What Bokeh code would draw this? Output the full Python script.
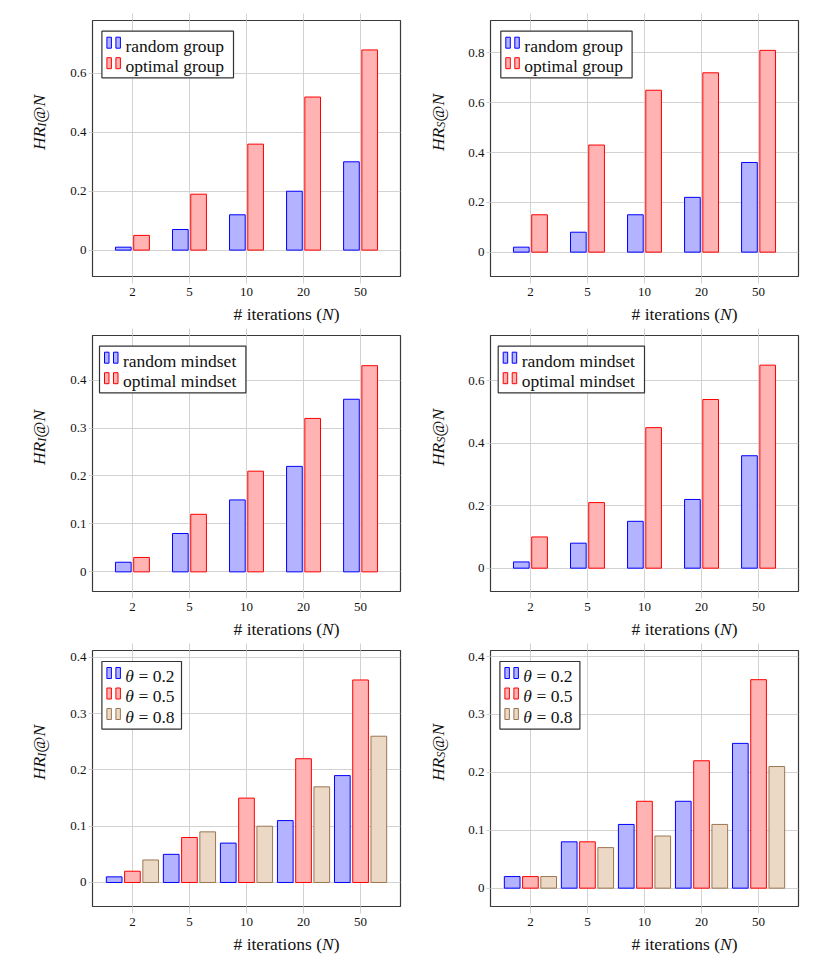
import math
from bokeh.plotting import figure
from bokeh.models import (FactorRange, Range1d, FixedTicker, CategoricalAxis,
                          BoxAnnotation, Label, ColumnDataSource, Plot)
from bokeh.transform import dodge
from bokeh.layouts import gridplot
from bokeh.embed import file_html
from bokeh.resources import INLINE

# ---------------- data ----------------
iterations = ["2", "5", "10", "20", "50"]

hri_random_group = [0.01, 0.07, 0.12, 0.20, 0.30]
hri_optimal_group = [0.05, 0.19, 0.36, 0.52, 0.68]
hrs_random_group = [0.02, 0.08, 0.15, 0.22, 0.36]
hrs_optimal_group = [0.15, 0.43, 0.65, 0.72, 0.81]

hri_random_mindset = [0.02, 0.08, 0.15, 0.22, 0.36]
hri_optimal_mindset = [0.03, 0.12, 0.21, 0.32, 0.43]
hrs_random_mindset = [0.02, 0.08, 0.15, 0.22, 0.36]
hrs_optimal_mindset = [0.10, 0.21, 0.45, 0.54, 0.65]

hri_theta_02 = [0.01, 0.05, 0.07, 0.11, 0.19]
hri_theta_05 = [0.02, 0.08, 0.15, 0.22, 0.36]
hri_theta_08 = [0.04, 0.09, 0.10, 0.17, 0.26]
hrs_theta_02 = [0.02, 0.08, 0.11, 0.15, 0.25]
hrs_theta_05 = [0.02, 0.08, 0.15, 0.22, 0.36]
hrs_theta_08 = [0.02, 0.07, 0.09, 0.11, 0.21]

group_labels = ["random group", "optimal group"]
mindset_labels = ["random mindset", "optimal mindset"]
theta_labels = ["0.2", "0.5", "0.8"]

yticks_a = [0, 0.2, 0.4, 0.6]
yticks_b = [0, 0.2, 0.4, 0.6, 0.8]
yticks_c = [0, 0.1, 0.2, 0.3, 0.4]

# ---------------- style ----------------
SERIF = "Liberation Serif"
TXT = "#111111"
GRID = "#d2d2d2"
FW, FH = 308, 256
F = 17.5
FS = 12.25
BLUE = ("#b3b3ff", "#0000ff")
RED = ("#ffb3b3", "#ff0000")
BROWN = ("#ebd9c6", "#9b7653")

B_LEFT = 40      # main figure left border (tick labels)
B_BOTTOM = 26    # main figure bottom border (tick labels)
XL_H = 23        # height of the x-label strip
SHIFT = 4.5      # correction for where Bokeh puts the alphabetic baseline


def fmt(t):
    return "0" if t == 0 else f"{t:g}"


def label_plot(width, height):
    lp = Plot(width=width, height=height, min_border=0, toolbar_location=None,
              output_backend="svg", x_range=Range1d(0, 1), y_range=Range1d(0, 1),
              outline_line_color=None, background_fill_color=None,
              border_fill_color=None)
    return lp


def ylabel_plot(width, height, baseline_x, sub):
    lp = label_plot(width, height)
    w_sub = (0.333 if sub == "I" else 0.5) * FS
    parts = [("HR", "italic", F, 1.333 * F, 0.0),
             (sub, "italic", FS, w_sub, 3.5),
             ("@", "normal", F, 0.921 * F, 0.0),
             ("N", "italic", F, 0.667 * F, 0.0)]
    total = sum(pt[3] for pt in parts)
    y = B_BOTTOM + FH / 2 - total / 2
    for text, style, size, w, drop in parts:
        lp.add_layout(Label(x=baseline_x + drop - SHIFT, y=y, x_units="screen", y_units="screen",
                            text=text, angle=math.pi / 2, text_font=SERIF,
                            text_font_style=style, text_font_size=f"{size}px",
                            text_align="left", text_baseline="alphabetic",
                            text_color=TXT))
        y += w
    return lp


def xlabel_plot(width):
    lp = label_plot(width, XL_H)
    parts = [("# iterations (", "normal", 5.055 * F),
             ("N", "italic", 0.667 * F),
             (")", "normal", 0.333 * F)]
    total = sum(pt[2] for pt in parts)
    x = B_LEFT + FW / 2 - total / 2
    for text, style, w in parts:
        lp.add_layout(Label(x=x, y=XL_H - 15.8 + SHIFT, x_units="screen", y_units="screen",
                            text=text, text_font=SERIF, text_font_style=style,
                            text_font_size=f"{F}px", text_align="left",
                            text_baseline="alphabetic", text_color=TXT))
        x += w
    return lp


def sbox(l, r, t, b, fill, line, lw=1.0):
    return BoxAnnotation(left=l, right=r, top=t, bottom=b,
                         left_units="screen", right_units="screen",
                         top_units="screen", bottom_units="screen",
                         fill_color=fill, fill_alpha=1.0,
                         line_color=line, line_alpha=1.0, line_width=lw)


def add_legend(p, box, entries):
    L, T, W, H = box
    top = FH - T
    p.add_layout(sbox(L, L + W, top, top - H, "white", "#333333", 1.2))
    for i, (pieces, (fill, line)) in enumerate(entries):
        rt = top - 6 - i * 20.5
        rb = rt - 11
        p.add_layout(sbox(L + 5, L + 9.5, rt, rb, fill, line))
        p.add_layout(sbox(L + 14, L + 18.5, rt, rb, fill, line))
        by = top - 18.8 - i * 20.5 + SHIFT
        for text, style, dx in pieces:
            p.add_layout(Label(x=L + dx, y=by, x_units="screen", y_units="screen",
                               text=text, text_font=SERIF, text_font_style=style,
                               text_font_size=f"{F}px", text_align="left",
                               text_baseline="alphabetic", text_color=TXT))


def make_panel(col, top_border, series, styles, offsets, width, ylim, yticks,
               legend_box, legend_pieces):
    data = dict(x=iterations)
    for i, s in enumerate(series):
        data[f"s{i}"] = s
    src = ColumnDataSource(data)
    p = figure(x_range=FactorRange(factors=iterations, range_padding=0.2,
                                   range_padding_units="absolute"),
               y_range=Range1d(*ylim), frame_width=FW, frame_height=FH,
               min_border_left=B_LEFT, min_border_right=2 if col == 0 else 10,
               min_border_top=top_border, min_border_bottom=B_BOTTOM,
               output_backend="svg", toolbar_location=None, tools="")
    p.background_fill_color = "white"
    p.border_fill_color = "white"
    p.outline_line_color = "#3a3a3a"
    p.outline_line_width = 1.2

    for i, ((fc, lc), off) in enumerate(zip(styles, offsets)):
        p.vbar(x=dodge("x", off, range=p.x_range), top=f"s{i}", width=width,
               source=src, fill_color=fc, line_color=lc, line_width=1.0)

    xa = p.xaxis[0]
    xa.major_tick_out = 7
    xa.major_tick_in = 0
    xa.major_tick_line_color = GRID
    xa.axis_line_color = None
    xa.major_label_text_font = SERIF
    xa.major_label_text_font_size = "13px"
    xa.major_label_text_color = TXT
    xa.major_label_standoff = 4

    ya = p.yaxis[0]
    ya.ticker = FixedTicker(ticks=yticks)
    ya.major_label_overrides = {t: fmt(t) for t in yticks}
    ya.major_tick_out = 4
    ya.major_tick_in = 0
    ya.minor_tick_line_color = None
    ya.major_tick_line_color = GRID
    ya.axis_line_color = None
    ya.major_label_text_font = SERIF
    ya.major_label_text_font_size = "13px"
    ya.major_label_text_color = TXT
    ya.major_label_standoff = 2

    above = CategoricalAxis(major_label_text_font_size="1px", major_label_text_color=None,
                            major_label_standoff=0, major_tick_out=7, major_tick_in=0,
                            major_tick_line_color=GRID, axis_line_color=None)
    p.add_layout(above, "above")

    p.xgrid.grid_line_color = GRID
    p.ygrid.grid_line_color = GRID

    add_legend(p, legend_box, list(zip(legend_pieces, styles)))
    return p


two_off = [-0.16, 0.16]
three_off = [-0.32, 0.0, 0.32]
W = 0.275

grp_pieces = [[(t, "normal", 23.5)] for t in group_labels]
mind_pieces = [[(t, "normal", 23.5)] for t in mindset_labels]
theta_pieces = [[("\u03b8", "italic", 23.3), ("= " + t, "normal", 36.6)] for t in theta_labels]

p1 = make_panel(0, 20, [hri_random_group, hri_optimal_group], [BLUE, RED], two_off, W,
                (-0.0896, 0.780), yticks_a, (9.4, 10.7, 131.6, 46.6), grp_pieces)
p2 = make_panel(1, 20, [hrs_random_group, hrs_optimal_group], [BLUE, RED], two_off, W,
                (-0.0978, 0.930), yticks_b, (10.3, 10.7, 131.3, 46.6), grp_pieces)
p3 = make_panel(0, 10, [hri_random_mindset, hri_optimal_mindset], [BLUE, RED], two_off, W,
                (-0.041, 0.493), yticks_c, (7.0, 10.7, 146.4, 46.6), mind_pieces)
p4 = make_panel(1, 10, [hrs_random_mindset, hrs_optimal_mindset], [BLUE, RED], two_off, W,
                (-0.0747, 0.745), yticks_a, (7.7, 10.7, 146.3, 46.6), mind_pieces)
p5 = make_panel(0, 10, [hri_theta_02, hri_theta_05, hri_theta_08], [BLUE, RED, BROWN], three_off, W,
                (-0.0427, 0.4124), yticks_c, (9.4, 11.0, 79.6, 67.6), theta_pieces)
p6 = make_panel(1, 10, [hrs_theta_02, hrs_theta_05, hrs_theta_08], [BLUE, RED, BROWN], three_off, W,
                (-0.0317, 0.4104), yticks_c, (9.4, 11.0, 80.0, 67.6), theta_pieces)

W_MAIN1 = B_LEFT + FW + 2
W_MAIN2 = B_LEFT + FW + 10
W_YL1 = 52
W_YL2 = 48

rows = []
for (pa, pb, tb) in [(p1, p2, 20), (p3, p4, 10), (p5, p6, 10)]:
    h = tb + FH + B_BOTTOM
    rows.append([ylabel_plot(W_YL1, h, 42.6, "I"), pa,
                 ylabel_plot(W_YL2, h, 39.7, "S"), pb])
    rows.append([None, xlabel_plot(W_MAIN1), None, xlabel_plot(W_MAIN2)])

grid = gridplot(rows, toolbar_location=None)

with open("out.html", "w") as f:
    f.write(file_html(grid, INLINE))
